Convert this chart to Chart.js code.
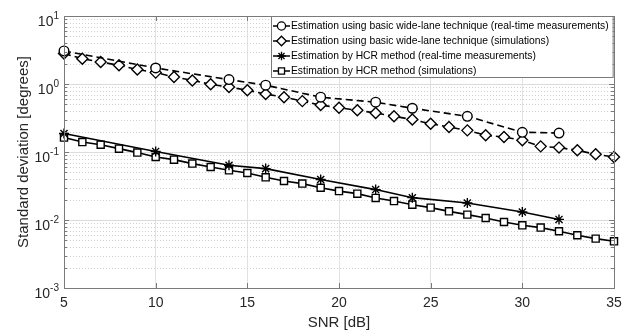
<!DOCTYPE html>
<html>
<head>
<meta charset="utf-8">
<script src="https://cdn.jsdelivr.net/npm/chart.js@4.4.0/dist/chart.umd.min.js"></script>
<style>
    html, body { margin: 0; padding: 0; background: #fff; }
    #wrap { width: 635px; height: 333px; }
</style>
</head>
<body>
<div id="wrap"><canvas id="snrChart" width="635" height="333"></canvas></div>
<script>
// SNR values [dB]
const snrSim = [5, 6, 7, 8, 9, 10, 11, 12, 13, 14, 15, 16, 17, 18, 19, 20,
    21, 22, 23, 24, 25, 26, 27, 28, 29, 30, 31, 32, 33, 34, 35];
const snrReal = [5, 10, 14, 16, 19, 22, 24, 27, 30, 32];

// standard deviation [degrees]
const wideLaneReal = [3.06, 1.72, 1.16, 0.96, 0.64, 0.54, 0.44, 0.335, 0.195, 0.19];
const wideLaneSim = [2.80, 2.36, 2.11, 1.88, 1.64, 1.47, 1.27, 1.13, 0.99, 0.90,
    0.81, 0.71, 0.64, 0.56, 0.49, 0.447, 0.41, 0.375, 0.335, 0.30,
    0.26, 0.233, 0.208, 0.176, 0.166, 0.149, 0.121, 0.116, 0.106, 0.0925, 0.0844];
const hcrReal = [0.187, 0.102, 0.0637, 0.057, 0.0394, 0.028, 0.0213, 0.0178, 0.0131, 0.0102];
const hcrSim = [0.163, 0.140, 0.128, 0.112, 0.098, 0.0844, 0.0772, 0.0675, 0.0601, 0.0538,
    0.0491, 0.0424, 0.0375, 0.0343, 0.0298, 0.0266, 0.0244, 0.0211, 0.0190, 0.0168,
    0.0152, 0.0134, 0.0120, 0.0107, 0.00935, 0.00836, 0.00773, 0.00683, 0.00596, 0.00532, 0.00486];

const seriesLabels = [
    'Estimation using basic wide-lane technique (real-time measurements)',
    'Estimation using basic wide-lane technique (simulations)',
    'Estimation by HCR method (real-time measurements)',
    'Estimation by HCR method (simulations)'
];

const xTicks = [5, 10, 15, 20, 25, 30, 35];
const yDecades = [-3, -2, -1, 0, 1];
const yTickBase = '10';
const yTickExp = ['-3', '-2', '-1', '0', '1'];

// log ticks 1..9 per decade, decades are the major ones
var yTickValues = [];
yDecades.forEach(function (d) {
    for (let m = 1; m <= 9; m++) {
        if (d === yDecades[yDecades.length - 1] && m > 1) break;
        yTickValues.push(Number((m * Math.pow(10, d)).toPrecision(3)));
    }
});

function isDecade(v) {
    let l = Math.log10(v);
    return Math.abs(l - Math.round(l)) < 1e-6;
}

function pts(xs, ys) {
    return xs.map(function (x, i) { return { x: x, y: ys[i] }; });
}

const FONT = '"Liberation Sans", Arial, Helvetica, sans-serif';
const AXIS_COLOR = '#262626';
const FRAME_COLOR = '#7a7a7a';

const matlabLook = {
    id: 'matlabLook',
    beforeDatasetsDraw: function (chart) {
        // dotted minor grid
        const ctx = chart.ctx, a = chart.chartArea, y = chart.scales.y;
        ctx.save();
        ctx.strokeStyle = '#cfcfcf';
        ctx.lineWidth = 1;
        ctx.setLineDash([1, 2]);
        y.ticks.forEach(function (t) {
            if (isDecade(t.value)) return;
            let py = Math.round(y.getPixelForValue(t.value)) + 0.5;
            ctx.beginPath();
            ctx.moveTo(a.left, py);
            ctx.lineTo(a.right, py);
            ctx.stroke();
        });
        ctx.restore();
    },
    afterDraw: function (chart) {
        const ctx = chart.ctx, a = chart.chartArea;
        const x = chart.scales.x, y = chart.scales.y;
        ctx.save();

        // box + inward ticks
        ctx.strokeStyle = FRAME_COLOR;
        ctx.lineWidth = 1;
        ctx.strokeRect(Math.round(a.left) + 0.5, Math.round(a.top) + 0.5,
            Math.round(a.right - a.left), Math.round(a.bottom - a.top));
        ctx.beginPath();
        y.ticks.forEach(function (t) {
            let py = Math.round(y.getPixelForValue(t.value)) + 0.5;
            let len = isDecade(t.value) ? 5 : 3;
            ctx.moveTo(a.left, py); ctx.lineTo(a.left + len, py);
            ctx.moveTo(a.right, py); ctx.lineTo(a.right - len, py);
        });
        xTicks.forEach(function (v) {
            let px = Math.round(x.getPixelForValue(v)) + 0.5;
            ctx.moveTo(px, a.bottom); ctx.lineTo(px, a.bottom - 5);
            ctx.moveTo(px, a.top); ctx.lineTo(px, a.top + 5);
        });
        ctx.stroke();

        // y tick labels with superscript exponents
        ctx.fillStyle = AXIS_COLOR;
        ctx.textAlign = 'left';
        ctx.textBaseline = 'alphabetic';
        yDecades.forEach(function (d, i) {
            let py = y.getPixelForValue(Math.pow(10, d));
            ctx.font = '10px ' + FONT;
            let ew = ctx.measureText(yTickExp[i]).width;
            ctx.font = '14px ' + FONT;
            let bw = ctx.measureText(yTickBase).width;
            let right = a.left - 5;
            ctx.fillText(yTickBase, right - ew - bw, py + 10);
            ctx.font = '10px ' + FONT;
            ctx.fillText(yTickExp[i], right - ew, py + 3);
        });

        // legend box in the upper right corner
        const rowH = 15, lx = 271, ly = 16;
        const legFont = '10.3px ' + FONT;
        ctx.font = legFont;
        let maxW = 0;
        chart.data.datasets.forEach(function (ds) {
            maxW = Math.max(maxW, ctx.measureText(ds.label).width);
        });
        const boxW = 20 + maxW + 4;
        const boxH = rowH * chart.data.datasets.length + 1;
        ctx.fillStyle = '#fff';
        ctx.fillRect(lx, ly, boxW, boxH);
        ctx.strokeStyle = FRAME_COLOR;
        ctx.strokeRect(lx + 0.5, ly + 0.5, boxW, boxH);

        chart.data.datasets.forEach(function (ds, i) {
            let cy = ly + 10 + i * rowH;
            ctx.strokeStyle = '#000';
            ctx.lineWidth = 1.5;
            ctx.setLineDash([]);
            ctx.beginPath();
            ctx.moveTo(lx + 2, cy);
            ctx.lineTo(lx + 19, cy);
            ctx.stroke();
            ctx.fillStyle = '#fff';
            ctx.lineWidth = 1.3;
            Chart.helpers.drawPoint(ctx, {
                pointStyle: ds.pointStyle, radius: ds.pointRadius - 0.7,
                rotation: 0, borderWidth: 1.3
            }, lx + 10.5, cy);
            ctx.fillStyle = '#000';
            ctx.font = legFont;
            ctx.textBaseline = 'middle';
            ctx.fillText(ds.label, lx + 20, cy + 0.5);
        });
        ctx.restore();
    }
};

function lineSet(label, xs, ys, style, radius, dashed) {
    return {
        label: label,
        data: pts(xs, ys),
        borderColor: '#000',
        backgroundColor: '#fff',
        borderWidth: 1.6,
        borderDash: dashed ? [7, 4] : [],
        pointStyle: style,
        pointRadius: radius,
        pointBorderWidth: 1.4,
        pointBorderColor: '#000',
        pointBackgroundColor: '#fff',
        tension: 0,
        clip: false
    };
}

const ctx = document.getElementById('snrChart').getContext('2d');
const snrChart = new Chart(ctx, {
    type: 'line',
    data: {
        datasets: [
            lineSet(seriesLabels[0], snrReal, wideLaneReal, 'circle', 4.8, true),
            lineSet(seriesLabels[1], snrSim, wideLaneSim, 'rectRot', 5.5, true),
            lineSet(seriesLabels[2], snrReal, hcrReal, 'star', 5, false),
            lineSet(seriesLabels[3], snrSim, hcrSim, 'rect', 5, false)
        ]
    },
    options: {
        responsive: false,
        animation: false,
        devicePixelRatio: 1,
        layout: { padding: { top: 16, right: 21, left: 0, bottom: 0 } },
        plugins: {
            legend: { display: false },
            tooltip: { enabled: false }
        },
        scales: {
            x: {
                type: 'linear',
                min: 5,
                max: 35,
                afterBuildTicks: function (scale) {
                    scale.ticks = xTicks.map(function (v) { return { value: v }; });
                },
                afterFit: function (scale) { scale.height = 45; },
                grid: { color: '#e2e2e2', drawTicks: false },
                border: { display: false },
                ticks: {
                    color: AXIS_COLOR,
                    font: { family: FONT, size: 14 },
                    padding: 7,
                    maxRotation: 0
                },
                title: {
                    display: true,
                    text: 'SNR [dB]',
                    color: AXIS_COLOR,
                    font: { family: FONT, size: 15 },
                    padding: { top: 0, bottom: 1 }
                }
            },
            y: {
                type: 'logarithmic',
                min: 0.001,
                max: 10,
                afterBuildTicks: function (scale) {
                    scale.ticks = yTickValues.map(function (v) { return { value: v }; });
                },
                afterFit: function (scale) { scale.width = 64; },
                grid: {
                    drawTicks: false,
                    color: function (c) {
                        return c.tick && isDecade(c.tick.value) ? '#dcdcdc' : 'rgba(0,0,0,0)';
                    }
                },
                border: { display: false },
                ticks: { display: false },
                title: {
                    display: true,
                    text: 'Standard deviation [degrees]',
                    color: AXIS_COLOR,
                    font: { family: FONT, size: 15 },
                    padding: { top: 15, bottom: 0 }
                }
            }
        }
    },
    plugins: [matlabLook]
});
</script>
</body>
</html>
